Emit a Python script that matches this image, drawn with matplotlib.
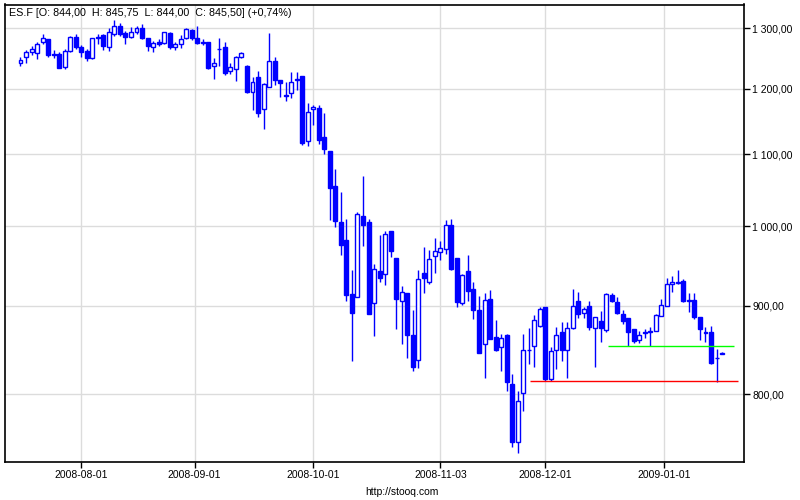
"""
ES.F daily candles, Jul 2008 - Jan 2009 (stooq style chart)
"""

import matplotlib
matplotlib.use("Agg")
import matplotlib.pyplot as plt
import numpy as np
import pandas as pd

# trading days (US exchange holidays removed)
holidays = ["2008-09-01", "2008-11-27", "2008-12-25", "2009-01-01"]
dates = pd.bdate_range("2008-07-17", "2009-01-16", freq="C", holidays=holidays)

opens = [1241, 1251, 1259, 1258, 1277, 1282, 1256, 1256, 1235, 1262,
         1285, 1268, 1262, 1249, 1285, 1288, 1268, 1291, 1304, 1292,
         1285, 1293, 1300, 1283, 1268, 1276, 1275, 1292, 1268, 1273,
         1283, 1297, 1283, 1277, 1277, 1237, 1265, 1268, 1228, 1232,
         1251, 1237, 1195, 1218, 1168, 1203, 1245, 1214, 1190, 1193,
         1215, 1220, 1119, 1168, 1169, 1125, 1105, 1054, 1005, 982,
         914, 910, 1013, 1005, 903, 942, 938, 993, 959, 905,
         915, 865, 837, 940, 928, 961, 966, 970, 1002, 958,
         903, 942, 920, 895, 855, 908, 863, 852, 866, 811,
         751, 801, 848, 853, 876, 898, 816, 849, 869, 848,
         873, 906, 891, 899, 873, 882, 871, 913, 904, 890,
         885, 872, 860, 868, 869, 870, 888, 900, 926, 927,
         930, 905, 907, 886, 869, 869, 840, 844]
highs = [1252, 1263, 1269, 1277, 1291, 1282, 1263, 1259, 1264, 1286,
         1290, 1272, 1265, 1283, 1290, 1290, 1300, 1314, 1309, 1295,
         1302, 1304, 1307, 1283, 1279, 1281, 1294, 1293, 1277, 1288,
         1300, 1298, 1304, 1281, 1277, 1249, 1283, 1276, 1241, 1253,
         1260, 1238, 1218, 1229, 1209, 1292, 1251, 1214, 1211, 1226,
         1226, 1221, 1177, 1174, 1174, 1162, 1105, 1078, 1046, 1010,
         943, 1019, 1068, 1010, 951, 988, 993, 993, 959, 924,
         915, 895, 943, 973, 969, 984, 980, 1008, 1009, 958,
         938, 963, 928, 911, 915, 919, 883, 867, 867, 822,
         804, 867, 874, 889, 898, 898, 852, 875, 881, 881,
         920, 916, 898, 905, 886, 893, 915, 915, 910, 895,
         885, 872, 870, 872, 875, 890, 908, 934, 936, 943,
         932, 915, 915, 886, 875, 876, 850, 845.75]
lows = [1237, 1241, 1255, 1248, 1273, 1251, 1249, 1233, 1232, 1260,
        1265, 1252, 1245, 1248, 1274, 1263, 1262, 1287, 1287, 1274,
        1283, 1291, 1282, 1262, 1260, 1270, 1274, 1264, 1263, 1266,
        1282, 1280, 1273, 1271, 1232, 1216, 1236, 1222, 1224, 1212,
        1249, 1193, 1167, 1156, 1137, 1202, 1206, 1187, 1180, 1185,
        1198, 1114, 1112, 1144, 1115, 1101, 1008, 999, 962, 905,
        836, 910, 974, 890, 864, 928, 925, 960, 872, 855,
        840, 825, 828, 915, 926, 940, 956, 964, 943, 898,
        901, 906, 884, 845, 817, 861, 847, 825, 804, 746,
        740, 783, 833, 830, 875, 814, 814, 827, 836, 817,
        872, 885, 885, 871, 829, 858, 869, 904, 890, 878,
        853, 856, 856, 862, 853, 870, 887, 900, 916, 926,
        904, 892, 884, 860, 857, 833, 813, 844]
closes = [1246, 1260, 1264, 1274, 1283, 1254, 1255, 1234, 1262, 1285,
          1268, 1260, 1249, 1283, 1283, 1269, 1293, 1304, 1291, 1285,
          1294, 1300, 1283, 1269, 1275, 1274, 1293, 1268, 1273, 1281,
          1298, 1283, 1275, 1275, 1233, 1241, 1264, 1225, 1235, 1252,
          1258, 1194, 1210, 1162, 1207, 1245, 1214, 1209, 1188, 1211,
          1214, 1116, 1164, 1171, 1121, 1108, 1052, 1007, 975, 913,
          891, 1016, 1001, 890, 945, 934, 989, 968, 908, 916,
          866, 830, 932, 934, 957, 967, 971, 1002, 945, 904,
          937, 917, 895, 845, 907, 861, 849, 862, 813, 751,
          793, 849, 849, 883, 896, 816, 847, 866, 848, 873,
          899, 890, 896, 875, 886, 873, 914, 905, 891, 882,
          869, 859, 865, 869, 870, 889, 901, 926, 928, 928,
          906, 907, 886, 872, 868, 834, 840, 845.5]

month_labels = ["2008-08-01", "2008-09-01", "2008-10-01",
                "2008-11-03", "2008-12-01", "2009-01-01"]
price_ticks = [800, 900, 1000, 1100, 1200, 1300]

# drawn support lines: level, first bar, last bar, colour
line_levels = [853, 814]
line_start = [106.4, 92.2]
line_end = [129.2, 129.9]
line_colors = ["#00ff00", "#ff0000"]

title = "ES.F [O: 844,00  H: 845,75  L: 844,00  C: 845,50] (+0,74%)"


def fmt_price(v):
    return f"{v:,.2f}".replace(",", " ").replace(".", ",")


def tick_position(day):
    day = pd.Timestamp(day)
    i = dates.searchsorted(day)
    return i if dates[i] == day else i - 0.5


plt.rcParams["font.family"] = ["Liberation Sans", "DejaVu Sans"]
fig = plt.figure(figsize=(8, 5), dpi=100)
ax = fig.add_axes([5.3 / 800, 1 - 461.7 / 500, 738.7 / 800, 457.2 / 500])

o = np.array(opens, dtype=float)
h = np.array(highs, dtype=float)
l = np.array(lows, dtype=float)
c = np.array(closes, dtype=float)
x = np.arange(len(dates))
up = c >= o
blue = "#0000ff"

ax.vlines(x, l, h, color=blue, lw=1.0, zorder=2)
bottom = np.minimum(o, c)
height = np.abs(c - o)
ax.bar(x[up], height[up], bottom=bottom[up], width=0.72,
       facecolor="white", edgecolor=blue, lw=1.0, zorder=3)
ax.bar(x[~up], height[~up], bottom=bottom[~up], width=0.72,
       facecolor=blue, edgecolor=blue, lw=1.0, zorder=3)

for lev, x0, x1, col in zip(line_levels, line_start, line_end, line_colors):
    ax.hlines(lev, x0, x1, color=col, lw=1.0, zorder=4)

ax.set_yscale("log")
ax.set_ylim(731.6, 1341.7)
ax.set_xlim(-2.75, 130.97)
ax.set_yticks(price_ticks)
ax.set_yticklabels([fmt_price(v) for v in price_ticks])
ax.yaxis.set_minor_locator(matplotlib.ticker.NullLocator())
ax.yaxis.tick_right()
ax.set_xticks([tick_position(d) for d in month_labels])
ax.set_xticklabels(month_labels)
ax.tick_params(labelsize=7.5, length=4, width=1, colors="black", pad=2)
ax.grid(True, color="#dcdcdc", lw=1.0, zorder=0)
ax.set_axisbelow(True)
for s in ax.spines.values():
    s.set_linewidth(1.2)
    s.set_color("black")

fig.text(9.3 / 800, 1 - 13.5 / 500, title, fontsize=7.75, va="center", ha="left")
fig.text(401.5 / 800, 1 - 492.3 / 500, "http://stooq.com", fontsize=7.5,
         va="center", ha="center")

fig.savefig("out.png", dpi=100)
